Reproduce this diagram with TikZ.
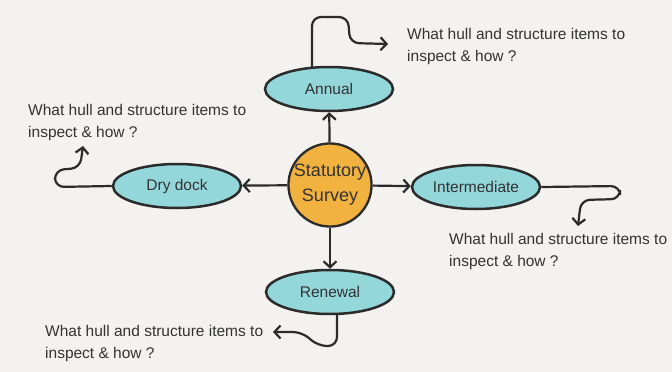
\documentclass[tikz,border=0pt]{standalone}
\usepackage{fontspec}
\setmainfont{Liberation Sans}
\usetikzlibrary{shapes.geometric,arrows.meta}
\definecolor{bg}{HTML}{F3F2EE}
\definecolor{cyanfill}{HTML}{94D7DB}
\definecolor{orangefill}{HTML}{F1B23F}
\definecolor{ink}{HTML}{2B2B2B}
\definecolor{txt}{HTML}{333333}
\tikzset{
  survey/.style={ellipse, draw=ink, line width=2.5pt, fill=cyanfill, inner sep=0pt,
    minimum width=128pt, minimum height=44pt, text=txt,
    font=\fontsize{15.5}{18}\selectfont},
  hub/.style={circle, draw=ink, line width=2.3pt, fill=orangefill, inner sep=0pt,
    minimum size=80pt, text=txt, align=center,
    font=\fontsize{18}{25}\selectfont},
  question/.style={anchor=north west, inner sep=0pt, align=left, text=txt,
    font=\fontsize{15.5}{22}\selectfont},
  conn/.style={draw=ink, line width=2.2pt, -{Straight Barb[length=6pt,width=13pt,line width=2.2pt]}},
  wiggle/.style={conn, rounded corners=9pt},
}
\begin{document}
\begin{tikzpicture}[x=1pt,y=-1pt]
\useasboundingbox (0,0) rectangle (672,372);
\fill[bg] (0,0) rectangle (672,372);

\node[hub] (c) at (330,185) {Statutory\\Survey};
\node[survey] (an) at (329,89) {Annual};
\node[survey] (dd) at (177,186) {Dry dock};
\node[survey] (im) at (476,187) {Intermediate};
\node[survey] (rn) at (330,292) {Renewal};

\draw[conn] (c) -- (an);
\draw[conn] (c) -- (dd);
\draw[conn] (c) -- (im);
\draw[conn] (c) -- (rn);

\node[question] (qan) at (407,28) {What hull and structure items to\\inspect \& how ?};
\node[question] (qdd) at (28,104) {What hull and structure items to\\inspect \& how ?};
\node[question] (qim) at (449,233) {What hull and structure items to\\inspect \& how ?};
\node[question] (qrn) at (45,325) {What hull and structure items to\\inspect \& how ?};

\coordinate (san) at (312,67);
\coordinate (srn) at (337,313);
\coordinate (ean) at (388,44);
\coordinate (edd) at (83,146);
\coordinate (eim) at (578,226);
\coordinate (ern) at (273,332);

\draw[wiggle] (san) -- (312,17) -- (348,17) -- (350,43) -- (ean);
\draw[wiggle] (dd.west) -- (55,187) -- (55,170) -- (80,168) -- (edd);
\draw[wiggle] (im.east) -- (620,186) -- (620,199) -- (581,200) -- (eim);
\draw[wiggle] (srn) -- (337,346) -- (318,346) -- (302,332) -- (ern);
\end{tikzpicture}
\end{document}
